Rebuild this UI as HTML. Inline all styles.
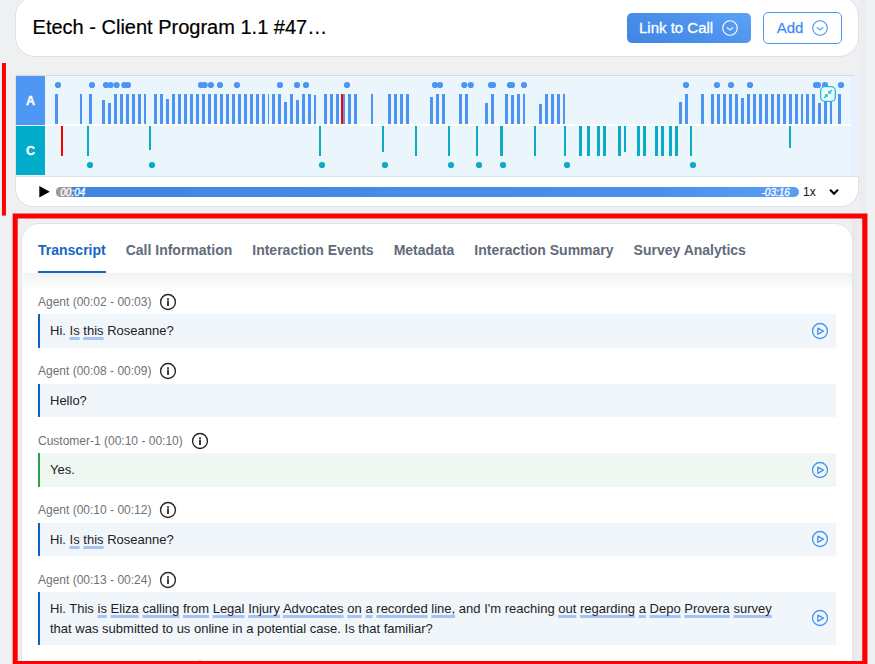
<!DOCTYPE html>
<html><head><meta charset="utf-8"><title>Call</title>
<style>
*{box-sizing:border-box;margin:0;padding:0}
html,body{width:875px;height:664px;overflow:hidden}
body{background:#eef0f2;font-family:"Liberation Sans",sans-serif;position:relative;color:#222}
.abs{position:absolute}
.hdr{position:absolute;left:15px;top:-4px;width:844px;height:61px;background:#fff;border:1px solid #dde1e6;border-radius:20px}
.title{position:absolute;left:32.6px;top:15px;font-size:20px;line-height:24px;color:#000;white-space:nowrap;-webkit-text-stroke:.2px #000}
.btn1{position:absolute;left:627px;top:13px;width:124px;height:30px;border-radius:5px;background:linear-gradient(205deg,#5ca2f9,#4a90ea 55%,#3f86e3);color:#fff;font-size:15px;line-height:30px;padding-left:12px;white-space:nowrap;-webkit-text-stroke:.3px #fff}
.btn2{position:absolute;left:763px;top:12px;width:79px;height:32px;border-radius:5px;border:1.3px solid #4d97f5;background:#fff;color:#3f8cf0;font-size:15px;line-height:29.4px;padding-left:12.7px;-webkit-text-stroke:.25px #3f8cf0}
.wcard{position:absolute;left:15px;top:76px;width:844px;height:131px;background:#fff;border:1px solid #dfe2e6;border-top:none;border-radius:0 0 18px 18px}
.panel{position:absolute;left:16px;top:76px;width:842.5px;height:100px;background:#eaf6fb}
.ptop{position:absolute;left:16px;top:75px;width:838px;height:1px;background:#d6d8da}
.pbot{position:absolute;left:16px;top:176px;width:842px;height:1px;background:#dfe4e8}
.la{position:absolute;left:16px;top:76px;width:29px;height:49px;background:#4f97f5;color:#fff;font-weight:bold;font-size:12.5px;text-align:center;line-height:51px;-webkit-text-stroke:.3px #fff}
.lc{position:absolute;left:16px;top:126px;width:29px;height:49px;background:#00acc9;color:#fff;font-weight:bold;font-size:12.5px;text-align:center;line-height:51px;-webkit-text-stroke:.3px #fff}
.lw{position:absolute;left:16px;top:125px;width:29px;height:1px;background:#e8f4fb}
.wave{position:absolute;left:0;top:76px}
.redl{position:absolute;left:2px;top:63px;width:4px;height:153px;background:#f00}
.redbox{position:absolute;left:13px;top:214px;width:854px;height:453px;border:5px solid #f00}
.track{position:absolute;left:56px;top:187px;width:743px;height:10px;border-radius:5px;background:linear-gradient(90deg,#3f85e2 0%,#4b8fea 80%,#5a9df3 100%);overflow:hidden}
.track i{position:absolute;left:0;top:0;width:16px;height:10px;background:#9a9a9a}
.t1{position:absolute;left:60.3px;top:188px;font-size:10px;line-height:10px;color:#fff;font-style:italic;-webkit-text-stroke:.3px #fff}
.t2{position:absolute;left:761.5px;top:188px;font-size:10px;line-height:10px;color:#fff;font-style:italic;-webkit-text-stroke:.3px #fff}
.spd{position:absolute;left:803px;top:185px;font-size:12px;line-height:14px;color:#111}
.tcard{position:absolute;left:21px;top:223px;width:832px;height:470px;background:#fff;border:1px solid #e0e3e7;border-radius:18px;overflow:hidden}
.sb{position:absolute;left:852px;top:219px;width:11px;height:445px;background:linear-gradient(90deg,#e7e9ec,#ebedf0)}
.tabs{position:absolute;left:38px;top:242px;font-size:14px;font-weight:bold;line-height:16px;color:#626a79;white-space:nowrap}
.tabs span{margin-right:20px}
.tabs .on{color:#1565c0}
.tul{position:absolute;left:38px;top:271px;width:68px;height:2px;background:#1565c0}
.tsh{position:absolute;left:23px;top:273px;width:829px;height:17px;background:linear-gradient(180deg,#f0f1f3,#fff)}
.lab{position:absolute;left:38px;font-size:12px;line-height:14px;color:#6e7277;white-space:nowrap}
.msg{position:absolute;left:38px;width:798px;border-left:2px solid #1160c4;background:#f1f6fb}
.msg.c{border-left-color:#2e9e4f;background:#f0f7f2}
.tx{position:absolute;left:10px;top:7.3px;font-size:13px;line-height:20px;color:#222;white-space:nowrap;word-spacing:.045px}
.u{text-decoration:underline;text-decoration-color:#a6c3f8;text-decoration-thickness:3px;text-underline-offset:2px;text-decoration-skip-ink:none}
</style></head><body>
<div class="abs" style="left:859px;top:0;width:7px;height:214px;background:#ebedf0"></div><div class="abs" style="left:866px;top:0;width:9px;height:664px;background:#f0f1f3"></div>
<div class="hdr"></div>
<div class="title">Etech - Client Program 1.1 #47…</div>
<div class="btn1">Link to Call</div>
<svg style="position:absolute;left:720.9px;top:18.9px" width="18" height="18" viewBox="0 0 18 18"><circle cx="9" cy="9" r="7.3" fill="none" stroke="#fff" stroke-width="1.1"/><path d="M6.1 8.6 L9 10.9 L11.9 8.6" fill="none" stroke="#fff" stroke-width="1.1" stroke-linecap="round" stroke-linejoin="round"/></svg>
<div class="btn2">Add</div>
<svg style="position:absolute;left:810.9px;top:18.9px" width="18" height="18" viewBox="0 0 18 18"><circle cx="9" cy="9" r="7.3" fill="none" stroke="#4690f2" stroke-width="1.1"/><path d="M6.1 8.6 L9 10.9 L11.9 8.6" fill="none" stroke="#4690f2" stroke-width="1.1" stroke-linecap="round" stroke-linejoin="round"/></svg>
<div class="wcard"></div>
<div class="panel"></div>
<div class="abs" style="left:850px;top:76px;width:8.5px;height:100px;background:#e9f2fc"></div><div class="ptop"></div><div class="pbot"></div>
<svg class="wave" width="859" height="101" viewBox="0 76 859 101" shape-rendering="crispEdges">
<rect x="45" y="124" width="805" height="2" fill="#fff"/>
<rect x="55" y="94" width="3" height="30" fill="#4d94f4"/>
<rect x="80" y="94" width="2" height="30" fill="#4d94f4"/>
<rect x="89" y="94" width="3" height="30" fill="#4d94f4"/>
<rect x="102" y="100" width="3" height="24" fill="#4d94f4"/>
<rect x="108" y="103" width="3" height="21" fill="#4d94f4"/>
<rect x="114" y="94" width="3" height="30" fill="#4d94f4"/>
<rect x="120" y="94" width="3" height="30" fill="#4d94f4"/>
<rect x="126" y="94" width="3" height="30" fill="#4d94f4"/>
<rect x="132" y="94" width="3" height="30" fill="#4d94f4"/>
<rect x="138" y="94" width="3" height="30" fill="#4d94f4"/>
<rect x="144" y="94" width="2" height="30" fill="#4d94f4"/>
<rect x="154" y="94" width="3" height="30" fill="#4d94f4"/>
<rect x="160" y="94" width="3" height="30" fill="#4d94f4"/>
<rect x="166" y="99" width="3" height="25" fill="#4d94f4"/>
<rect x="172" y="94" width="3" height="30" fill="#4d94f4"/>
<rect x="178" y="94" width="3" height="30" fill="#4d94f4"/>
<rect x="184" y="94" width="3" height="30" fill="#4d94f4"/>
<rect x="190" y="94" width="3" height="30" fill="#4d94f4"/>
<rect x="196" y="94" width="3" height="30" fill="#4d94f4"/>
<rect x="202" y="94" width="3" height="30" fill="#4d94f4"/>
<rect x="208" y="94" width="3" height="30" fill="#4d94f4"/>
<rect x="214" y="94" width="3" height="30" fill="#4d94f4"/>
<rect x="220" y="94" width="3" height="30" fill="#4d94f4"/>
<rect x="226" y="94" width="3" height="30" fill="#4d94f4"/>
<rect x="232" y="94" width="3" height="30" fill="#4d94f4"/>
<rect x="238" y="94" width="3" height="30" fill="#4d94f4"/>
<rect x="244" y="94" width="3" height="30" fill="#4d94f4"/>
<rect x="250" y="94" width="3" height="30" fill="#4d94f4"/>
<rect x="256" y="94" width="3" height="30" fill="#4d94f4"/>
<rect x="262" y="94" width="3" height="30" fill="#4d94f4"/>
<rect x="268" y="94" width="1" height="30" fill="#4d94f4"/>
<rect x="272" y="94" width="3" height="30" fill="#4d94f4"/>
<rect x="278" y="94" width="3" height="30" fill="#4d94f4"/>
<rect x="284" y="102" width="3" height="22" fill="#4d94f4"/>
<rect x="290" y="94" width="3" height="30" fill="#4d94f4"/>
<rect x="296" y="100" width="3" height="24" fill="#4d94f4"/>
<rect x="302" y="94" width="3" height="30" fill="#4d94f4"/>
<rect x="308" y="94" width="3" height="30" fill="#4d94f4"/>
<rect x="314" y="95" width="2" height="29" fill="#4d94f4"/>
<rect x="324" y="94" width="3" height="30" fill="#4d94f4"/>
<rect x="330" y="94" width="3" height="30" fill="#4d94f4"/>
<rect x="336" y="94" width="3" height="30" fill="#4d94f4"/>
<rect x="342" y="94" width="3" height="30" fill="#4d94f4"/>
<rect x="348" y="94" width="3" height="30" fill="#4d94f4"/>
<rect x="354" y="94" width="3" height="30" fill="#4d94f4"/>
<rect x="371" y="94" width="2" height="30" fill="#4d94f4"/>
<rect x="388" y="94" width="3" height="30" fill="#4d94f4"/>
<rect x="394" y="94" width="3" height="30" fill="#4d94f4"/>
<rect x="400" y="94" width="3" height="30" fill="#4d94f4"/>
<rect x="406" y="94" width="3" height="30" fill="#4d94f4"/>
<rect x="430" y="97" width="3" height="27" fill="#4d94f4"/>
<rect x="436" y="94" width="3" height="30" fill="#4d94f4"/>
<rect x="442" y="94" width="3" height="30" fill="#4d94f4"/>
<rect x="459" y="94" width="3" height="30" fill="#4d94f4"/>
<rect x="465" y="94" width="3" height="30" fill="#4d94f4"/>
<rect x="485" y="103" width="3" height="21" fill="#4d94f4"/>
<rect x="491" y="94" width="3" height="30" fill="#4d94f4"/>
<rect x="505" y="94" width="3" height="30" fill="#4d94f4"/>
<rect x="511" y="95" width="3" height="29" fill="#4d94f4"/>
<rect x="517" y="94" width="3" height="30" fill="#4d94f4"/>
<rect x="523" y="94" width="2" height="30" fill="#4d94f4"/>
<rect x="539" y="104" width="3" height="20" fill="#4d94f4"/>
<rect x="545" y="94" width="3" height="30" fill="#4d94f4"/>
<rect x="551" y="94" width="3" height="30" fill="#4d94f4"/>
<rect x="557" y="94" width="3" height="30" fill="#4d94f4"/>
<rect x="563" y="94" width="2" height="30" fill="#4d94f4"/>
<rect x="679" y="102" width="3" height="22" fill="#4d94f4"/>
<rect x="685" y="94" width="3" height="30" fill="#4d94f4"/>
<rect x="701" y="94" width="3" height="30" fill="#4d94f4"/>
<rect x="711" y="94" width="3" height="30" fill="#4d94f4"/>
<rect x="717" y="94" width="3" height="30" fill="#4d94f4"/>
<rect x="723" y="94" width="3" height="30" fill="#4d94f4"/>
<rect x="729" y="94" width="3" height="30" fill="#4d94f4"/>
<rect x="735" y="94" width="3" height="30" fill="#4d94f4"/>
<rect x="741" y="98" width="3" height="26" fill="#4d94f4"/>
<rect x="747" y="94" width="3" height="30" fill="#4d94f4"/>
<rect x="753" y="94" width="3" height="30" fill="#4d94f4"/>
<rect x="759" y="94" width="3" height="30" fill="#4d94f4"/>
<rect x="765" y="94" width="3" height="30" fill="#4d94f4"/>
<rect x="771" y="94" width="3" height="30" fill="#4d94f4"/>
<rect x="777" y="94" width="3" height="30" fill="#4d94f4"/>
<rect x="783" y="94" width="3" height="30" fill="#4d94f4"/>
<rect x="789" y="94" width="3" height="30" fill="#4d94f4"/>
<rect x="795" y="94" width="3" height="30" fill="#4d94f4"/>
<rect x="801" y="94" width="2" height="30" fill="#4d94f4"/>
<rect x="806" y="94" width="3" height="30" fill="#4d94f4"/>
<rect x="812" y="94" width="3" height="30" fill="#4d94f4"/>
<rect x="818" y="103" width="3" height="21" fill="#4d94f4"/>
<rect x="824" y="94" width="3" height="30" fill="#4d94f4"/>
<rect x="830" y="94" width="2" height="30" fill="#4d94f4"/>
<rect x="838" y="94" width="3" height="30" fill="#4d94f4"/>
<rect x="341" y="94" width="2" height="30" fill="#f00"/>
<rect x="87" y="126" width="2" height="30" fill="#0aabc6"/>
<rect x="149" y="126" width="2" height="24" fill="#0aabc6"/>
<rect x="319" y="126" width="2" height="30" fill="#0aabc6"/>
<rect x="382" y="126" width="2" height="26" fill="#0aabc6"/>
<rect x="415" y="126" width="2" height="30" fill="#0aabc6"/>
<rect x="448" y="126" width="2" height="30" fill="#0aabc6"/>
<rect x="476" y="126" width="2" height="30" fill="#0aabc6"/>
<rect x="500" y="126" width="3" height="30" fill="#0aabc6"/>
<rect x="534" y="126" width="2" height="30" fill="#0aabc6"/>
<rect x="564" y="126" width="2" height="30" fill="#0aabc6"/>
<rect x="579" y="126" width="3" height="30" fill="#0aabc6"/>
<rect x="587" y="126" width="3" height="30" fill="#0aabc6"/>
<rect x="597" y="126" width="3" height="30" fill="#0aabc6"/>
<rect x="603" y="126" width="3" height="30" fill="#0aabc6"/>
<rect x="618" y="126" width="3" height="30" fill="#0aabc6"/>
<rect x="624" y="126" width="2" height="26" fill="#0aabc6"/>
<rect x="637" y="126" width="3" height="30" fill="#0aabc6"/>
<rect x="643" y="126" width="3" height="30" fill="#0aabc6"/>
<rect x="655" y="126" width="3" height="30" fill="#0aabc6"/>
<rect x="661" y="126" width="3" height="30" fill="#0aabc6"/>
<rect x="669" y="126" width="3" height="30" fill="#0aabc6"/>
<rect x="675" y="126" width="3" height="30" fill="#0aabc6"/>
<rect x="690" y="126" width="2" height="30" fill="#0aabc6"/>
<rect x="789" y="126" width="2" height="22" fill="#0aabc6"/>
<rect x="61" y="126" width="2" height="30" fill="#f00"/>
<g shape-rendering="auto">
<circle cx="58" cy="85" r="3.1" fill="#4d94f4"/>
<circle cx="92" cy="85" r="3.1" fill="#4d94f4"/>
<circle cx="106" cy="85" r="3.1" fill="#4d94f4"/>
<circle cx="110.6" cy="85" r="3.1" fill="#4d94f4"/>
<circle cx="116.6" cy="85" r="3.1" fill="#4d94f4"/>
<circle cx="124.3" cy="85" r="3.1" fill="#4d94f4"/>
<circle cx="128" cy="85" r="3.1" fill="#4d94f4"/>
<circle cx="201" cy="85" r="3.1" fill="#4d94f4"/>
<circle cx="204.7" cy="85" r="3.1" fill="#4d94f4"/>
<circle cx="210.9" cy="85" r="3.1" fill="#4d94f4"/>
<circle cx="220" cy="85" r="3.1" fill="#4d94f4"/>
<circle cx="237" cy="85" r="3.1" fill="#4d94f4"/>
<circle cx="280" cy="85" r="3.1" fill="#4d94f4"/>
<circle cx="297" cy="85" r="3.1" fill="#4d94f4"/>
<circle cx="306" cy="85" r="3.1" fill="#4d94f4"/>
<circle cx="347" cy="85" r="3.1" fill="#4d94f4"/>
<circle cx="435" cy="85" r="3.1" fill="#4d94f4"/>
<circle cx="440" cy="85" r="3.1" fill="#4d94f4"/>
<circle cx="464.3" cy="85" r="3.1" fill="#4d94f4"/>
<circle cx="470.8" cy="85" r="3.1" fill="#4d94f4"/>
<circle cx="491" cy="85" r="3.1" fill="#4d94f4"/>
<circle cx="493" cy="85" r="3.1" fill="#4d94f4"/>
<circle cx="510" cy="85" r="3.1" fill="#4d94f4"/>
<circle cx="512" cy="85" r="3.1" fill="#4d94f4"/>
<circle cx="524" cy="85" r="3.1" fill="#4d94f4"/>
<circle cx="686" cy="85" r="3.1" fill="#4d94f4"/>
<circle cx="717" cy="85" r="3.1" fill="#4d94f4"/>
<circle cx="731" cy="85" r="3.1" fill="#4d94f4"/>
<circle cx="750" cy="85" r="3.1" fill="#4d94f4"/>
<circle cx="816" cy="85" r="3.1" fill="#4d94f4"/>
<circle cx="818" cy="85" r="3.1" fill="#4d94f4"/>
<circle cx="825" cy="85" r="3.1" fill="#4d94f4"/>
<circle cx="841" cy="85" r="3.1" fill="#4d94f4"/>
<circle cx="90" cy="165" r="3.1" fill="#0aabc6"/>
<circle cx="152" cy="165" r="3.1" fill="#0aabc6"/>
<circle cx="322" cy="165" r="3.1" fill="#0aabc6"/>
<circle cx="385" cy="165" r="3.1" fill="#0aabc6"/>
<circle cx="451" cy="165" r="3.1" fill="#0aabc6"/>
<circle cx="479" cy="165" r="3.1" fill="#0aabc6"/>
<circle cx="503" cy="165" r="3.1" fill="#0aabc6"/>
<circle cx="567" cy="165" r="3.1" fill="#0aabc6"/>
<circle cx="693" cy="165" r="3.1" fill="#0aabc6"/>
</g></svg>
<div class="la">A</div><div class="lw"></div><div class="lc">C</div>
<svg class="abs" style="left:820px;top:86px" width="16" height="16" viewBox="0 0 16 16"><rect x="0.65" y="0.65" width="14.7" height="14.7" rx="4.3" fill="#f6fcfe" stroke="#12c0dc" stroke-width="1.3"/><path d="M12 4 L9 7" fill="none" stroke="#12c0dc" stroke-width="1.15"/><path d="M8.2 4.3 V7.8 H11.8 Z" fill="#12c0dc"/><path d="M4 12 L7 9" fill="none" stroke="#12c0dc" stroke-width="1.15"/><path d="M7.8 11.8 V8.3 H4.2 Z" fill="#12c0dc"/></svg>
<svg class="abs" style="left:39px;top:186px" width="12" height="12" viewBox="0 0 12 12"><path d="M0.3 0 L10.8 5.7 L0.3 11.4 Z" fill="#000"/></svg>
<div class="track"><i></i></div>
<div class="t1">00:04</div><div class="t2">-03:16</div>
<div class="spd">1x</div>
<svg class="abs" style="left:828px;top:187px" width="12" height="10" viewBox="0 0 12 10"><path d="M2 2.6 L6 6.8 L10 2.6" fill="none" stroke="#000" stroke-width="2.1"/></svg>
<svg class="abs" style="left:0;top:0;pointer-events:none" width="875" height="664" viewBox="0 0 875 664"><rect x="1.95" y="63" width="4" height="152.6" fill="#ff0000"/></svg>
<div class="sb"></div>
<div class="tcard"></div>
<div class="tabs"><span class="on">Transcript</span><span>Call Information</span><span>Interaction Events</span><span>Metadata</span><span>Interaction Summary</span><span>Survey Analytics</span></div>
<div class="tul"></div><div class="tsh"></div>
<div class="lab" style="top:294.6px">Agent (00:02 - 00:03)</div>
<svg style="position:absolute;left:159px;top:292.8px" width="18" height="18" viewBox="0 0 18 18"><circle cx="9" cy="9" r="7.45" fill="none" stroke="#262626" stroke-width="1.4"/><rect x="8.1" y="7.5" width="1.8" height="5.5" fill="#262626"/><rect x="8.1" y="5.2" width="1.8" height="1.7" fill="#262626"/></svg>
<div class="msg a" style="top:314.0px;height:33.5px"><div class="tx">Hi. <span class="u">Is</span> <span class="u">this</span> Roseanne?</div></div>
<svg style="position:absolute;left:809.95px;top:320.65px" width="20" height="20" viewBox="0 0 20 20"><circle cx="10" cy="10" r="7.5" fill="none" stroke="#4b96f3" stroke-width="1.35"/><path d="M7.8 7.1 L13.4 10.2 L7.8 13.3 Z" fill="none" stroke="#4b96f3" stroke-width="1.35" stroke-linejoin="round"/></svg>
<div class="lab" style="top:364.1px">Agent (00:08 - 00:09)</div>
<svg style="position:absolute;left:159px;top:362.3px" width="18" height="18" viewBox="0 0 18 18"><circle cx="9" cy="9" r="7.45" fill="none" stroke="#262626" stroke-width="1.4"/><rect x="8.1" y="7.5" width="1.8" height="5.5" fill="#262626"/><rect x="8.1" y="5.2" width="1.8" height="1.7" fill="#262626"/></svg>
<div class="msg a" style="top:383.5px;height:33.5px"><div class="tx">Hello?</div></div>
<div class="lab" style="top:433.6px">Customer-1 (00:10 - 00:10)</div>
<svg style="position:absolute;left:191px;top:431.8px" width="18" height="18" viewBox="0 0 18 18"><circle cx="9" cy="9" r="7.45" fill="none" stroke="#262626" stroke-width="1.4"/><rect x="8.1" y="7.5" width="1.8" height="5.5" fill="#262626"/><rect x="8.1" y="5.2" width="1.8" height="1.7" fill="#262626"/></svg>
<div class="msg c" style="top:453.0px;height:33.5px"><div class="tx">Yes.</div></div>
<svg style="position:absolute;left:809.95px;top:459.65px" width="20" height="20" viewBox="0 0 20 20"><circle cx="10" cy="10" r="7.5" fill="none" stroke="#4b96f3" stroke-width="1.35"/><path d="M7.8 7.1 L13.4 10.2 L7.8 13.3 Z" fill="none" stroke="#4b96f3" stroke-width="1.35" stroke-linejoin="round"/></svg>
<div class="lab" style="top:503.1px">Agent (00:10 - 00:12)</div>
<svg style="position:absolute;left:159px;top:501.3px" width="18" height="18" viewBox="0 0 18 18"><circle cx="9" cy="9" r="7.45" fill="none" stroke="#262626" stroke-width="1.4"/><rect x="8.1" y="7.5" width="1.8" height="5.5" fill="#262626"/><rect x="8.1" y="5.2" width="1.8" height="1.7" fill="#262626"/></svg>
<div class="msg a" style="top:522.5px;height:33.5px"><div class="tx">Hi. <span class="u">Is</span> <span class="u">this</span> Roseanne?</div></div>
<svg style="position:absolute;left:809.95px;top:529.15px" width="20" height="20" viewBox="0 0 20 20"><circle cx="10" cy="10" r="7.5" fill="none" stroke="#4b96f3" stroke-width="1.35"/><path d="M7.8 7.1 L13.4 10.2 L7.8 13.3 Z" fill="none" stroke="#4b96f3" stroke-width="1.35" stroke-linejoin="round"/></svg>
<div class="lab" style="top:572.6px">Agent (00:13 - 00:24)</div>
<svg style="position:absolute;left:159px;top:570.8px" width="18" height="18" viewBox="0 0 18 18"><circle cx="9" cy="9" r="7.45" fill="none" stroke="#262626" stroke-width="1.4"/><rect x="8.1" y="7.5" width="1.8" height="5.5" fill="#262626"/><rect x="8.1" y="5.2" width="1.8" height="1.7" fill="#262626"/></svg>
<div class="msg a" style="top:592.0px;height:52.9px"><div class="tx">Hi. This <span class="u">is</span> <span class="u">Eliza</span> <span class="u">calling</span> <span class="u">from</span> <span class="u">Legal</span> <span class="u">Injury</span> <span class="u">Advocates</span> <span class="u">on</span> <span class="u">a</span> <span class="u">recorded</span> <span class="u">line,</span> and I'm reaching <span class="u">out</span> <span class="u">regarding</span> <span class="u">a</span> <span class="u">Depo</span> <span class="u">Provera</span> <span class="u">survey</span><br>that was submitted to us online in a potential case. Is that familiar?</div></div>
<svg style="position:absolute;left:809.95px;top:608.35px" width="20" height="20" viewBox="0 0 20 20"><circle cx="10" cy="10" r="7.5" fill="none" stroke="#4b96f3" stroke-width="1.35"/><path d="M7.8 7.1 L13.4 10.2 L7.8 13.3 Z" fill="none" stroke="#4b96f3" stroke-width="1.35" stroke-linejoin="round"/></svg>
<svg style="position:absolute;left:191px;top:660.3px" width="18" height="18" viewBox="0 0 18 18"><circle cx="9" cy="9" r="7.45" fill="none" stroke="#262626" stroke-width="1.4"/><rect x="8.1" y="7.5" width="1.8" height="5.5" fill="#262626"/><rect x="8.1" y="5.2" width="1.8" height="1.7" fill="#262626"/></svg>
<svg class="abs" style="left:0;top:0;pointer-events:none" width="875" height="664" viewBox="0 0 875 664"><path fill-rule="evenodd" fill="#ff0000" d="M12.65 213.4 H867.45 V670 H12.65 Z M17.7 218.6 H862.25 V660.9 H17.7 Z"/></svg>
</body></html>
